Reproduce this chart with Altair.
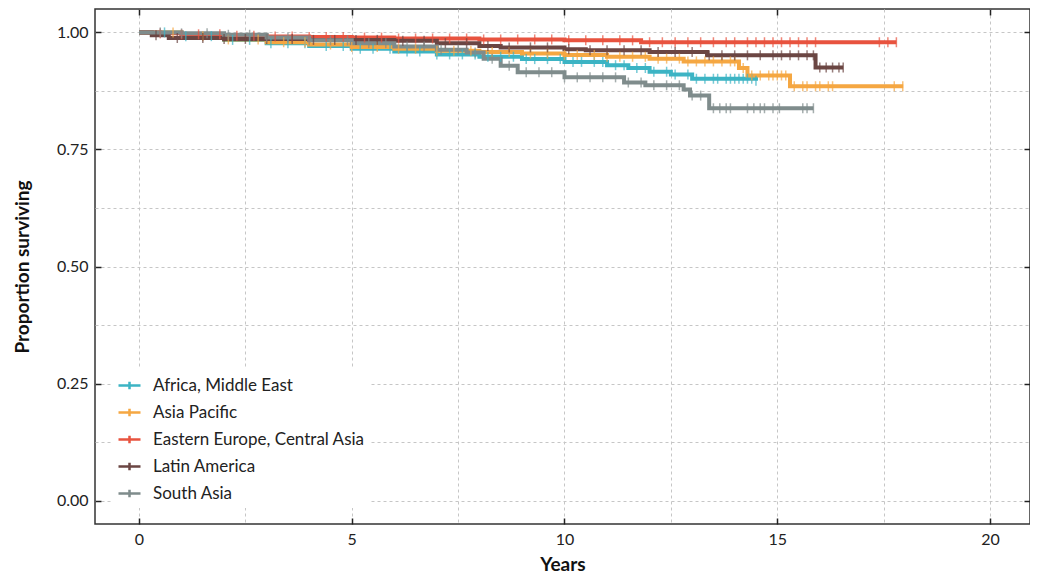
import altair as alt
import pandas as pd

regions = ["Africa, Middle East", "Asia Pacific", "Eastern Europe, Central Asia",
           "Latin America", "South Asia"]
colors = ["#3cb4c4", "#f5a742", "#e8533f", "#6b4643", "#7f8c8c"]

# Kaplan-Meier step points (time in years, proportion surviving)
africa_t = [0, 1, 2, 3, 4, 5, 6, 7, 8, 9, 10, 11, 11.5, 12, 12.5, 13, 14.5]
africa_s = [1.0, 0.992, 0.984, 0.977, 0.971, 0.965, 0.959, 0.953, 0.948, 0.943, 0.937, 0.93, 0.924, 0.916, 0.91, 0.901, 0.897]
asia_t = [0, 1, 2, 3, 4, 5, 6, 7, 8, 9, 10, 11, 12, 12.8, 14.1, 14.3, 15.3, 17.96]
asia_s = [1.0, 0.992, 0.985, 0.979, 0.974, 0.969, 0.965, 0.961, 0.958, 0.955, 0.952, 0.948, 0.944, 0.938, 0.924, 0.908, 0.885, 0.885]
eeca_t = [0, 0.5, 1, 2, 3, 4, 5, 6, 8, 10, 11.8, 17.8]
eeca_s = [1.0, 0.998, 0.996, 0.993, 0.991, 0.99, 0.989, 0.987, 0.985, 0.983, 0.979, 0.979]
latam_t = [0, 0.3, 0.7, 2, 4, 6, 7, 8, 8.5, 10, 10.5, 12, 13.35, 15.9, 16.55]
latam_s = [1.0, 0.994, 0.988, 0.986, 0.984, 0.982, 0.977, 0.971, 0.968, 0.964, 0.962, 0.958, 0.951, 0.925, 0.925]
sasia_t = [0, 1, 2, 3, 4, 5, 6, 7, 7.7, 8.1, 8.5, 8.9, 10.0, 11.4, 11.9, 12.8, 12.95, 13.4, 15.85]
sasia_s = [1.0, 0.998, 0.995, 0.989, 0.983, 0.977, 0.97, 0.963, 0.957, 0.944, 0.929, 0.915, 0.904, 0.893, 0.887, 0.878, 0.865, 0.838, 0.838]

# censoring times
africa_c = [0.6, 1.1, 1.7, 2.2, 2.6, 3.1, 3.5, 3.9, 4.4, 4.8, 5.2, 5.5, 5.9, 6.3, 6.6, 7.0, 7.3, 7.6, 7.9, 8.2,
            8.5, 8.8, 9.1, 9.3, 9.6, 9.9, 10.2, 10.4, 10.7, 10.9, 11.2, 11.4, 11.7, 11.9, 12.1, 12.4, 12.6,
            12.9, 13.1, 13.3, 13.5, 13.6, 13.8, 13.9, 14.0, 14.1, 14.2, 14.3, 14.4, 14.5]
asia_c = [0.8, 1.5, 2.1, 2.8, 3.4, 3.9, 4.5, 5.0, 5.6, 6.1, 6.5, 7.0, 7.4, 7.8, 8.3, 8.7, 9.2, 9.6, 10.0,
          10.3, 10.7, 11.0, 11.3, 11.6, 11.9, 12.2, 12.4, 12.7, 12.9, 13.1, 13.3, 13.5, 13.7, 13.9, 14.0,
          14.2, 14.4, 14.6, 14.8, 14.9, 15.0, 15.1, 15.2, 15.4, 15.6, 15.7, 15.9, 16.0, 16.2, 16.3, 17.75, 17.95]
eeca_c = [0.5, 1.0, 1.4, 1.9, 2.3, 2.7, 3.2, 3.6, 4.0, 4.4, 4.8, 5.3, 5.7, 6.1, 6.5, 6.9, 7.3, 7.7, 8.1,
          8.5, 8.9, 9.3, 9.7, 10.1, 10.5, 10.9, 11.3, 11.6, 12.0, 12.3, 12.6, 12.9, 13.2, 13.5, 13.8, 14.0,
          14.3, 14.5, 14.7, 14.9, 15.1, 15.3, 15.5, 15.7, 15.9, 17.4, 17.6, 17.8]
latam_c = [0.4, 0.9, 1.5, 2.0, 2.5, 3.0, 3.6, 4.1, 4.6, 5.1, 5.6, 6.2, 6.7, 7.2, 7.7, 8.2, 8.7, 9.2, 9.6,
           10.1, 10.6, 11.0, 11.4, 11.8, 12.2, 12.6, 13.0, 13.4, 13.7, 14.0, 14.3, 14.6, 14.9, 15.1, 15.3,
           15.5, 15.7, 15.85, 16.0, 16.15, 16.3, 16.45, 16.55]
sasia_c = [0.5, 1.0, 1.6, 2.1, 2.6, 3.0, 3.5, 4.0, 4.5, 4.9, 5.4, 5.8, 6.3, 6.7, 7.1, 7.5, 7.9, 8.3, 8.7,
           9.1, 9.4, 9.7, 10.0, 10.3, 10.6, 10.9, 11.2, 11.5, 11.8, 12.1, 12.4, 12.7, 13.0, 13.2, 13.5,
           13.65, 13.8, 13.9, 14.3, 14.45, 14.6, 14.7, 14.9, 15.05, 15.6, 15.7, 15.85]

x_ticks = [0, 5, 10, 15, 20]
y_ticks = [0.0, 0.25, 0.5, 0.75, 1.0]
x_grid = [0, 2.5, 5, 7.5, 10, 12.5, 15, 17.5, 20]
y_grid = [0.0, 0.125, 0.25, 0.375, 0.5, 0.625, 0.75, 0.875, 1.0]

series = [(africa_t, africa_s, africa_c), (asia_t, asia_s, asia_c), (eeca_t, eeca_s, eeca_c),
          (latam_t, latam_s, latam_c), (sasia_t, sasia_s, sasia_c)]

line_rows, cens_rows = [], []
for i, (name, (ts, ss, cs)) in enumerate(zip(regions, series)):
    for t, s in zip(ts, ss):
        line_rows.append({"region": name, "t": t, "s": s, "o": i})
    for c in cs:
        s_at = ss[0]
        for t, s in zip(ts, ss):
            if t <= c:
                s_at = s
        cens_rows.append({"region": name, "t": c, "s": s_at, "o": i})

df_lines = pd.DataFrame(line_rows)
df_cens = pd.DataFrame(cens_rows)
df_axis = pd.DataFrame({"t": [0], "s": [0]})

FONT = "Lato"
xs = alt.Scale(domain=[-1.034, 20.94], nice=False, zero=False)
ys = alt.Scale(domain=[-0.05, 1.05], nice=False, zero=False)
cs = alt.Scale(domain=regions, range=colors)

grid = alt.Chart(df_axis).mark_point(opacity=0).encode(
    x=alt.X("t:Q", scale=xs, axis=alt.Axis(orient="bottom", values=x_grid, grid=True, gridDash=[3, 3],
                                           gridColor="#c6c6c6", gridWidth=1, ticks=False, labels=False,
                                           domain=False, title=None)),
    y=alt.Y("s:Q", scale=ys, axis=alt.Axis(orient="left", values=y_grid, grid=True, gridDash=[3, 3],
                                           gridColor="#c6c6c6", gridWidth=1, ticks=False, labels=False,
                                           domain=False, title=None)),
)

main_axes = alt.Chart(df_axis).mark_point(opacity=0).encode(
    x=alt.X("t:Q", scale=xs, axis=alt.Axis(orient="bottom", values=x_ticks, grid=False, tickSize=6, offset=-6,
                                           tickColor="#222", tickWidth=1.5, domain=False, labelPadding=7,
                                           labelFont=FONT, labelFontSize=16, labelColor="#222", title="Years",
                                           titleFont=FONT, titleFontSize=19, titleFontWeight="bold",
                                           titleColor="#111", titlePadding=8)),
    y=alt.Y("s:Q", scale=ys, axis=alt.Axis(orient="left", values=y_ticks, format=".2f", grid=False, tickSize=6,
                                           offset=-6, tickColor="#222", tickWidth=1.5, domain=False,
                                           labelPadding=7, labelFont=FONT, labelFontSize=16, labelColor="#222",
                                           title="Proportion surviving", titleFont=FONT, titleFontSize=19,
                                           titleFontWeight="bold", titleColor="#111", titlePadding=24)),
)

mirror_axes = alt.Chart(df_axis).mark_point(opacity=0).encode(
    x=alt.X("t:Q", scale=xs, axis=alt.Axis(orient="top", values=x_ticks, grid=False, tickSize=6, offset=-6,
                                           tickColor="#222", tickWidth=1.5, domain=False, labels=False,
                                           title=None)),
    y=alt.Y("s:Q", scale=ys, axis=alt.Axis(orient="right", values=y_ticks, grid=False, tickSize=6, offset=-6,
                                           tickColor="#222", tickWidth=1.5, domain=False, labels=False,
                                           title=None)),
)

lines = alt.Chart(df_lines).mark_line(interpolate="step-after", strokeWidth=4).encode(
    x=alt.X("t:Q", scale=xs, axis=None),
    y=alt.Y("s:Q", scale=ys, axis=None),
    color=alt.Color("region:N", scale=cs, legend=alt.Legend(
        title=None, orient="none", legendX=17, legendY=359, fillColor="white", padding=5,
        symbolType="M-1,0L1,0M0,-0.35L0,0.35", symbolSize=484, symbolStrokeWidth=2.5,
        labelFont=FONT, labelFontSize=17, labelColor="#222", labelOffset=11, rowPadding=5,
        labelLimit=400)),
    order=alt.Order("o:Q"),
    detail="region:N",
)

ticks = alt.Chart(df_cens).mark_tick(orient="vertical", size=10, thickness=1.5).encode(
    x=alt.X("t:Q", scale=xs, axis=None),
    y=alt.Y("s:Q", scale=ys, axis=None),
    color=alt.Color("region:N", scale=cs, legend=None),
)

chart = alt.layer(grid, lines, ticks, main_axes, mirror_axes).resolve_axis(
    x="independent", y="independent"
).properties(
    width=935, height=515, autosize="none", background="white",
    padding={"left": 87, "top": 1, "right": 0, "bottom": 50},
).configure_view(stroke="#333", strokeWidth=1.5)

chart.save("out.html", embed_options={"renderer": "svg", "actions": False})
